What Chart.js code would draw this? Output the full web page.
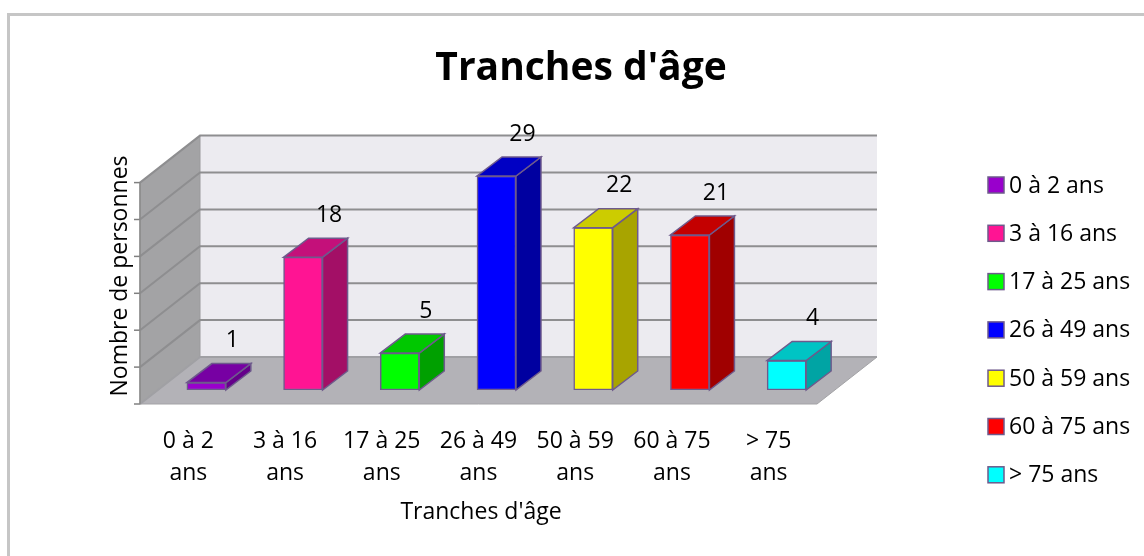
<!DOCTYPE html>
<html><head><meta charset="utf-8">
<script src="https://cdn.jsdelivr.net/npm/chart.js@4/dist/chart.umd.min.js"></script>
<style>html,body{margin:0;padding:0;background:#fff;overflow:hidden;}</style>
</head><body>
<canvas id="c" width="1144" height="556"></canvas>
<script>
// ---- data ----
const chartTitle = "Tranches d'âge";
const xTitle = "Tranches d'âge";
const yTitle = "Nombre de personnes";
const categories = ['0 à 2 ans','3 à 16 ans','17 à 25 ans','26 à 49 ans','50 à 59 ans','60 à 75 ans','> 75 ans'];
const tickLabels = [['0 à 2','ans'],['3 à 16','ans'],['17 à 25','ans'],['26 à 49','ans'],['50 à 59','ans'],['60 à 75','ans'],['> 75','ans']];
const values = [1, 18, 5, 29, 22, 21, 4];
const yTicks = [0, 5, 10, 15, 20, 25, 30];
const frontColors = ['#9900CC','#FF1493','#00FF00','#0000FF','#FFFF00','#FF0000','#00FFFF'];
const topColors   = ['#7700A3','#C4107A','#00C800','#0000C4','#CCCC00','#C40000','#00C4C4'];
const sideColors  = ['#65008A','#A30F66','#00A000','#0000A0','#A8A400','#A00000','#00A4A4'];

// ---- style / geometry ----
const FONT = "'Open Sans', 'Liberation Sans', sans-serif";
const EDGE = '#6E5A8C';
const BAR_DX = 25, BAR_DY = -19;
const FRONT_DX = -18, FRONT_DY = 14;
const BACK_DX = 42, BACK_DY = -33;

function poly(ctx, pts, fill, stroke, lw) {
  ctx.beginPath();
  ctx.moveTo(pts[0][0], pts[0][1]);
  for (let i = 1; i < pts.length; i++) ctx.lineTo(pts[i][0], pts[i][1]);
  ctx.closePath();
  if (fill) { ctx.fillStyle = fill; ctx.fill(); }
  if (stroke) { ctx.strokeStyle = stroke; ctx.lineWidth = lw || 1; ctx.stroke(); }
}

const box3d = {
  id: 'box3d',
  beforeDraw(chart) {
    const ctx = chart.ctx;
    ctx.save();
    ctx.fillStyle = '#fff';
    ctx.fillRect(0, 0, chart.width, chart.height);
    ctx.strokeStyle = '#C6C6C6';
    ctx.lineWidth = 3;
    ctx.strokeRect(8.5, 14.5, 1300, 700);
    ctx.restore();
  },
  beforeDatasetsDraw(chart) {
    const {ctx, chartArea: a, scales: {y}} = chart;
    const top = yTicks[yTicks.length - 1], bot = yTicks[0];
    const bl = a.left + BACK_DX, br = a.right + BACK_DX;
    const fl = a.left + FRONT_DX, fr = a.right + FRONT_DX;
    const yb = v => y.getPixelForValue(v) + BACK_DY;
    const yf = v => y.getPixelForValue(v) + FRONT_DY;
    ctx.save();
    // back wall
    ctx.fillStyle = '#ECEBF0';
    ctx.fillRect(bl, yb(top), br - bl, yb(bot) - yb(top));
    // left wall
    poly(ctx, [[bl, yb(top)], [bl, yb(bot)], [fl, yf(bot)], [fl, yf(top)]], '#A3A3A5', '#9A9A9C', 1);
    // floor
    poly(ctx, [[fl, yf(bot)], [fr, yf(bot)], [br, yb(bot)], [bl, yb(bot)]], '#B3B2B7', '#A3A3A6', 1);
    // grid lines
    yTicks.forEach(v => {
      ctx.beginPath();
      ctx.moveTo(fl, yf(v));
      ctx.lineTo(bl, yb(v));
      ctx.lineTo(br, yb(v));
      ctx.strokeStyle = v === bot ? '#A0A0A4' : '#8E8E90';
      ctx.lineWidth = 2;
      ctx.stroke();
      // axis tick
      ctx.beginPath();
      ctx.moveTo(fl - 6, yf(v));
      ctx.lineTo(fl, yf(v));
      ctx.strokeStyle = '#808080';
      ctx.lineWidth = 1.5;
      ctx.stroke();
    });
    // front axis line
    ctx.beginPath();
    ctx.moveTo(fl, yf(top));
    ctx.lineTo(fl, yf(bot));
    ctx.strokeStyle = '#8A8A8A';
    ctx.lineWidth = 1.5;
    ctx.stroke();
    ctx.restore();
  },
  afterDatasetsDraw(chart) {
    const ctx = chart.ctx;
    const meta = chart.getDatasetMeta(0);
    ctx.save();
    meta.data.forEach((bar, i) => {
      const {x, y, base, width} = bar.getProps(['x', 'y', 'base', 'width'], true);
      const l = x - width / 2, r = x + width / 2;
      poly(ctx, [[r, y], [r + BAR_DX, y + BAR_DY], [r + BAR_DX, base + BAR_DY], [r, base]], sideColors[i], EDGE, 1.5);
      poly(ctx, [[l, y], [r, y], [r + BAR_DX, y + BAR_DY], [l + BAR_DX, y + BAR_DY]], topColors[i], EDGE, 1.5);
      ctx.fillStyle = '#000';
      ctx.font = "23px " + FONT;
      ctx.textAlign = 'center';
      ctx.textBaseline = 'middle';
      ctx.fillText(String(values[i]), x + BAR_DX + 1, y + BAR_DY - 23);
    });
    ctx.restore();
  },
  afterDraw(chart) {
    const ctx = chart.ctx;
    ctx.save();
    ctx.fillStyle = '#000';
    // title
    ctx.font = "bold 39px " + FONT;
    ctx.textAlign = 'center';
    ctx.textBaseline = 'alphabetic';
    ctx.fillText(chartTitle, 581, 80);
    // x title
    ctx.font = "23px " + FONT;
    ctx.textBaseline = 'middle';
    ctx.fillText(xTitle, 481, 512);
    // y title
    ctx.save();
    ctx.translate(120, 276);
    ctx.rotate(-Math.PI / 2);
    ctx.fillText(yTitle, 0, 0);
    ctx.restore();
    // legend
    ctx.textAlign = 'left';
    categories.forEach((c, i) => {
      const cy = 185 + i * 48.3;
      ctx.fillStyle = frontColors[i];
      ctx.fillRect(988, cy - 8, 16, 16);
      ctx.strokeStyle = EDGE;
      ctx.lineWidth = 1.5;
      ctx.strokeRect(988, cy - 8, 16, 16);
      ctx.fillStyle = '#000';
      ctx.fillText(c, 1009, cy + 1);
    });
    ctx.restore();
  }
};

new Chart(document.getElementById('c'), {
  type: 'bar',
  data: {
    labels: tickLabels,
    datasets: [{
      label: yTitle,
      data: values,
      backgroundColor: frontColors,
      borderColor: EDGE,
      borderWidth: 1.5,
      borderSkipped: false,
      barThickness: 39
    }]
  },
  options: {
    responsive: false,
    animation: false,
    devicePixelRatio: 1,
    layout: {padding: {left: 0, right: 309, top: 168.6, bottom: 0}},
    plugins: {legend: {display: false}, title: {display: false}, tooltip: {enabled: false}},
    scales: {
      x: {
        grid: {display: false, drawTicks: false},
        border: {display: false},
        ticks: {
          color: '#000',
          font: {family: FONT, size: 23, lineHeight: 1.39},
          padding: 35,
          labelOffset: FRONT_DX,
          maxRotation: 0,
          autoSkip: false
        },
        afterFit(s) { s.height = 166; }
      },
      y: {
        min: yTicks[0],
        max: yTicks[yTicks.length - 1],
        grid: {display: false},
        border: {display: false},
        ticks: {display: false, stepSize: 5},
        afterFit(s) { s.width = 158; }
      }
    }
  },
  plugins: [box3d]
});
</script>
</body></html>
